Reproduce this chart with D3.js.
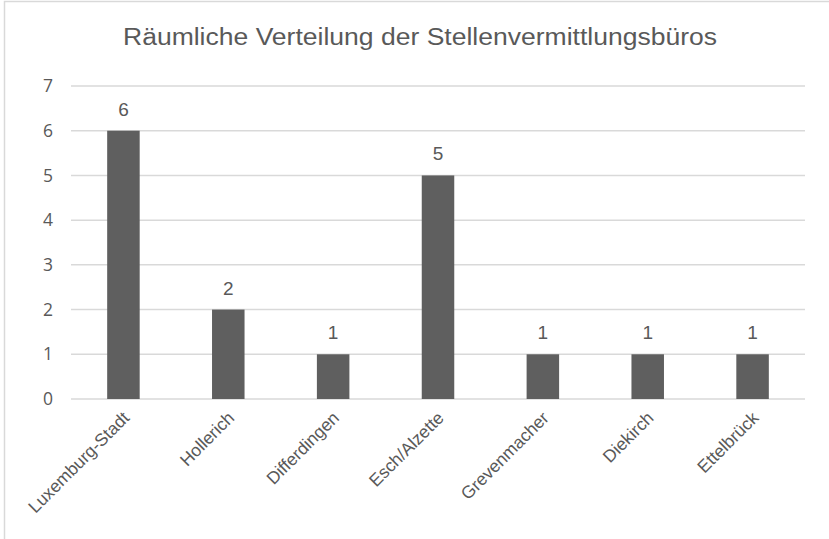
<!DOCTYPE html>
<html>
<head>
<meta charset="utf-8">
<script src="https://cdn.jsdelivr.net/npm/d3@7"></script>
<style>
  body { margin: 0; background: #fff; }
  svg { display: block; }
  text { font-family: "Liberation Sans", Arial, sans-serif; fill: #595959; }
</style>
</head>
<body>
<div id="chart"></div>
<script>
var title = "Räumliche Verteilung der Stellenvermittlungsbüros";
var orte = ["Luxemburg-Stadt", "Hollerich", "Differdingen", "Esch/Alzette", "Grevenmacher", "Diekirch", "Ettelbrück"];
var bueros = [6, 2, 1, 5, 1, 1, 1];
var yTicks = [0, 1, 2, 3, 4, 5, 6, 7];

var width = 829, height = 539;
var margin = {top: 86, right: 24, bottom: 140, left: 71};

var svg = d3.select("#chart")
            .append("svg")
            .attr("width", width)
            .attr("height", height);

// chart frame, only top and left edges are visible
svg.append("rect")
   .attr("x", 4.5).attr("y", 1.5)
   .attr("width", 900).attr("height", 600)
   .attr("fill", "none")
   .attr("stroke", "#d9d9d9")
   .attr("stroke-width", 1.5);

svg.append("text")
   .attr("x", 420).attr("y", 45)
   .attr("text-anchor", "middle")
   .attr("textLength", 594)
   .attr("lengthAdjust", "spacingAndGlyphs")
   .style("font-size", "23.5px")
   .text(title);

var x = d3.scaleBand()
          .domain(orte)
          .range([margin.left, width - margin.right])
          .paddingInner(0.69)
          .paddingOuter(0.345);

var y = d3.scaleLinear()
          .domain([0, 7])
          .range([height - margin.bottom, margin.top]);

var g = svg.append("g");

// gridlines
g.selectAll("line.grid")
 .data(yTicks)
 .enter()
 .append("line")
 .attr("class", "grid")
 .attr("x1", margin.left).attr("x2", width - margin.right)
 .attr("y1", function(d){ return y(d); })
 .attr("y2", function(d){ return y(d); })
 .attr("stroke", "#d9d9d9")
 .attr("stroke-width", 1.5);

// y axis labels
var yAxis = d3.axisLeft(y).tickValues(yTicks).tickFormat(d3.format("d")).tickSize(0).tickPadding(18);
var yg = svg.append("g")
            .attr("transform", "translate(" + margin.left + ",0)")
            .call(yAxis);
yg.select(".domain").remove();
yg.selectAll("text")
  .style("font-family", "'Open Sans', 'Liberation Sans', sans-serif")
  .style("font-size", "17.5px")
  .attr("fill", "#595959");

// bars
g.selectAll("rect.bar")
 .data(bueros)
 .enter()
 .append("rect")
 .attr("class", "bar")
 .attr("x", function(d, i){ return x(orte[i]); })
 .attr("y", function(d){ return y(d); })
 .attr("width", x.bandwidth())
 .attr("height", function(d){ return y(0) - y(d); })
 .attr("fill", "#5f5f5f");

// value labels
g.selectAll("text.val")
 .data(bueros)
 .enter()
 .append("text")
 .attr("class", "val")
 .attr("x", function(d, i){ return x(orte[i]) + x.bandwidth() / 2; })
 .attr("y", function(d){ return y(d) - 15; })
 .attr("text-anchor", "middle")
 .style("font-family", "'Liberation Sans Narrow', 'Liberation Sans', sans-serif")
 .style("font-size", "19px")
 .text(function(d){ return d; });

// x axis (rotated labels)
var xAxis = d3.axisBottom(x).tickSize(0).tickPadding(0);
var xg = svg.append("g")
            .attr("transform", "translate(0," + y(0) + ")")
            .call(xAxis);
xg.select(".domain").remove();
xg.selectAll("text")
  .style("font-size", "17.5px")
  .attr("fill", "#595959")
  .attr("text-anchor", "end")
  .attr("dy", null)
  .attr("y", 0)
  .attr("transform", "translate(7,20) rotate(-45)");
</script>
</body>
</html>
